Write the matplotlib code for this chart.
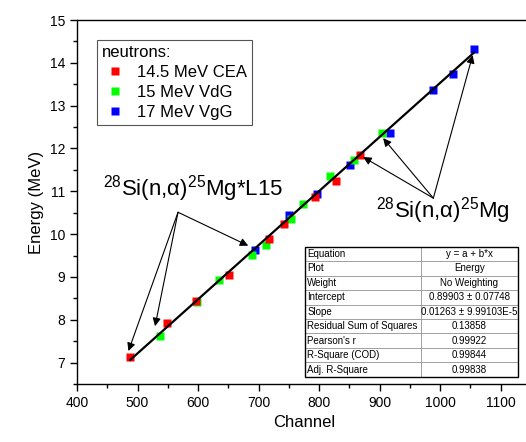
import numpy as np
import matplotlib.pyplot as plt

plt.rcParams['font.family'] = ['Liberation Sans', 'DejaVu Sans']
plt.rcParams['mathtext.fontset'] = 'custom'
plt.rcParams['mathtext.rm'] = 'Liberation Sans'
plt.rcParams['mathtext.it'] = 'Liberation Sans:italic'

# Data
red_x = [488, 548, 596, 652, 717, 742, 793, 828, 868]
red_y = [7.13, 7.92, 8.43, 9.04, 9.88, 10.24, 10.86, 11.25, 11.85]
green_x = [538, 599, 635, 690, 713, 754, 774, 818, 858, 904]
green_y = [7.62, 8.42, 8.92, 9.51, 9.75, 10.36, 10.71, 11.36, 11.74, 12.36]
blue_x = [694, 750, 796, 851, 917, 988, 1021, 1056]
blue_y = [9.62, 10.44, 10.93, 11.61, 12.37, 13.37, 13.75, 14.32]

labels = ['14.5 MeV CEA', '15 MeV VdG', '17 MeV VgG']

# linear fit result (from the table)
fit_a = 0.89903
fit_b = 0.01263

table_rows = [
    ['Equation', 'y = a + b*x'],
    ['Plot', 'Energy'],
    ['Weight', 'No Weighting'],
    ['Intercept', '0.89903 \u00b1 0.07748'],
    ['Slope', '0.01263 \u00b1 9.99103E-5'],
    ['Residual Sum of Squares', '0.13858'],
    ["Pearson's r", '0.99922'],
    ['R-Square (COD)', '0.99844'],
    ['Adj. R-Square', '0.99838'],
]

fig = plt.figure(figsize=(5.26, 4.42), dpi=100)
ax = fig.add_axes([77 / 526, 1 - 384 / 442, 453.75 / 526, 364 / 442])

ms = 6
hb, = ax.plot(blue_x, blue_y, 's', color='#0000ff', ms=ms, mec='none', label=labels[2])
hg, = ax.plot(green_x, green_y, 's', color='#00ff00', ms=ms, mec='none', label=labels[1])
hr, = ax.plot(red_x, red_y, 's', color='#ff0000', ms=ms, mec='none', label=labels[0])

all_x = np.array(red_x + green_x + blue_x)
xf = np.array([all_x.min(), all_x.max()])
ax.plot(xf, fit_a + fit_b * xf, color='k', lw=1.6, zorder=3)

ax.set_xlim(400, 1150)
ax.set_ylim(6.5, 15)
ax.set_xticks(np.arange(400, 1101, 100))
ax.set_xticks(np.arange(450, 1151, 100), minor=True)
ax.set_yticks(np.arange(7, 15.1, 1))
ax.set_yticks(np.arange(6.5, 15.1, 1), minor=True)
ax.tick_params(which='major', direction='out', length=5, width=1, labelsize=10)
ax.tick_params(which='minor', direction='out', length=3, width=1)
ax.spines['right'].set_visible(False)
for s in ['left', 'bottom', 'top']:
    ax.spines[s].set_linewidth(1.0)

ax.set_xlabel('Channel', fontsize=12)
ax.set_ylabel('Energy (MeV)', fontsize=12)

leg = ax.legend(handles=[hr, hg, hb], title='neutrons:', fontsize=12, title_fontsize=12,
                loc='upper left', bbox_to_anchor=(0.044, 0.945), borderaxespad=0,
                alignment='left', fancybox=False, edgecolor='#555555', framealpha=1,
                handletextpad=0.5, handlelength=1.6, labelspacing=0.3, borderpad=0.3)
leg.get_frame().set_linewidth(0.8)

arrow_kw = dict(arrowstyle='-|>', color='k', lw=0.8, mutation_scale=12, shrinkA=0, shrinkB=0)

# left group of arrows
ax.text(592, 11.06, r'$^{28}$Si(n,α)$^{25}$Mg*L15', fontsize=16, ha='center', va='center')
for tx, ty in [(485, 7.27), (529, 7.85), (683, 9.73)]:
    ax.annotate('', xy=(tx, ty), xytext=(567, 10.51), arrowprops=arrow_kw)

# right group of arrows
ax.text(1005, 10.55, r'$^{28}$Si(n,α)$^{25}$Mg', fontsize=16, ha='center', va='center')
for tx, ty in [(873, 11.80), (906, 12.24), (1054, 14.18)]:
    ax.annotate('', xy=(tx, ty), xytext=(989, 10.84), arrowprops=arrow_kw)

# fit results table
tbl = ax.table(cellText=table_rows, colWidths=[0.543, 0.457],
               bbox=[0.5025, 0.020, 0.4695, 0.357], zorder=5)
tbl.auto_set_font_size(False)
tbl.set_fontsize(7)
for (r, c), cell in tbl.get_celld().items():
    cell.set_edgecolor('#999999')
    cell.set_linewidth(0.6)
    cell.set_facecolor('white')
    cell.PAD = 0.02
    cell.get_text().set_ha('left' if c == 0 else 'center')
ax.add_patch(plt.Rectangle((0.5025, 0.020), 0.4695, 0.357, transform=ax.transAxes,
                           fill=False, edgecolor='k', lw=1.0, zorder=6))

fig.savefig('out.png', dpi=100)
